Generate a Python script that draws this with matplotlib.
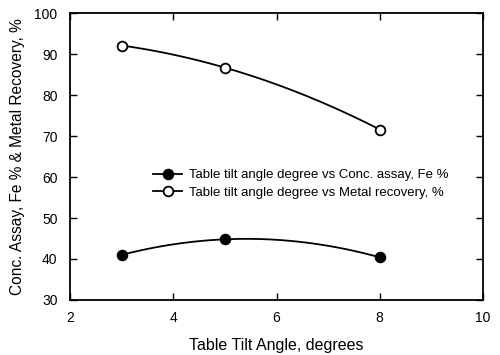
import numpy as np
import matplotlib.pyplot as plt

plt.rcParams['font.family'] = ['Liberation Sans', 'DejaVu Sans']

tilt = [3, 5, 8]
fe_assay = [41.0, 44.8, 40.4]
recovery = [92.1, 86.7, 71.6]

fig = plt.figure(figsize=(5, 3.55), dpi=100)
ax = fig.add_axes([0.14, 0.155, 0.826, 0.808])

# smooth curves through the points
xs = np.linspace(min(tilt), max(tilt), 100)
for y, fc, lab in [(fe_assay, 'black', 'Table tilt angle degree vs Conc. assay, Fe %'),
                   (recovery, 'white', 'Table tilt angle degree vs Metal recovery, %')]:
    c = np.polyfit(tilt, y, 2)
    ax.plot(xs, np.polyval(c, xs), color='black', lw=1.3, zorder=1)
    ax.plot(tilt, y, 'o', ms=7, mfc=fc, mec='black', mew=1.3, zorder=2)
    ax.plot([], [], '-o', color='black', ms=7, mfc=fc, mec='black', mew=1.3, lw=1.3, label=lab)

ax.set_xlim(2, 10)
ax.set_ylim(30, 100)
ax.set_xticks([2, 4, 6, 8, 10])
ax.set_yticks(range(30, 101, 10))
ax.tick_params(direction='in', top=True, right=True, labelsize=10, length=5, width=1)
ax.tick_params(axis='x', pad=8)
ax.tick_params(axis='y', pad=9)
for s in ax.spines.values():
    s.set_linewidth(1.3)

ax.set_xlabel('Table Tilt Angle, degrees', fontsize=11.5, labelpad=9)
ax.set_ylabel('Conc. Assay, Fe % & Metal Recovery, %', fontsize=11.2, labelpad=7)

ax.legend(loc='center left', bbox_to_anchor=(0.185, 0.405), frameon=False, fontsize=9.5,
          handlelength=2.2, handletextpad=0.5, labelspacing=0.4, borderpad=0)

fig.savefig('out.png', dpi=100)
